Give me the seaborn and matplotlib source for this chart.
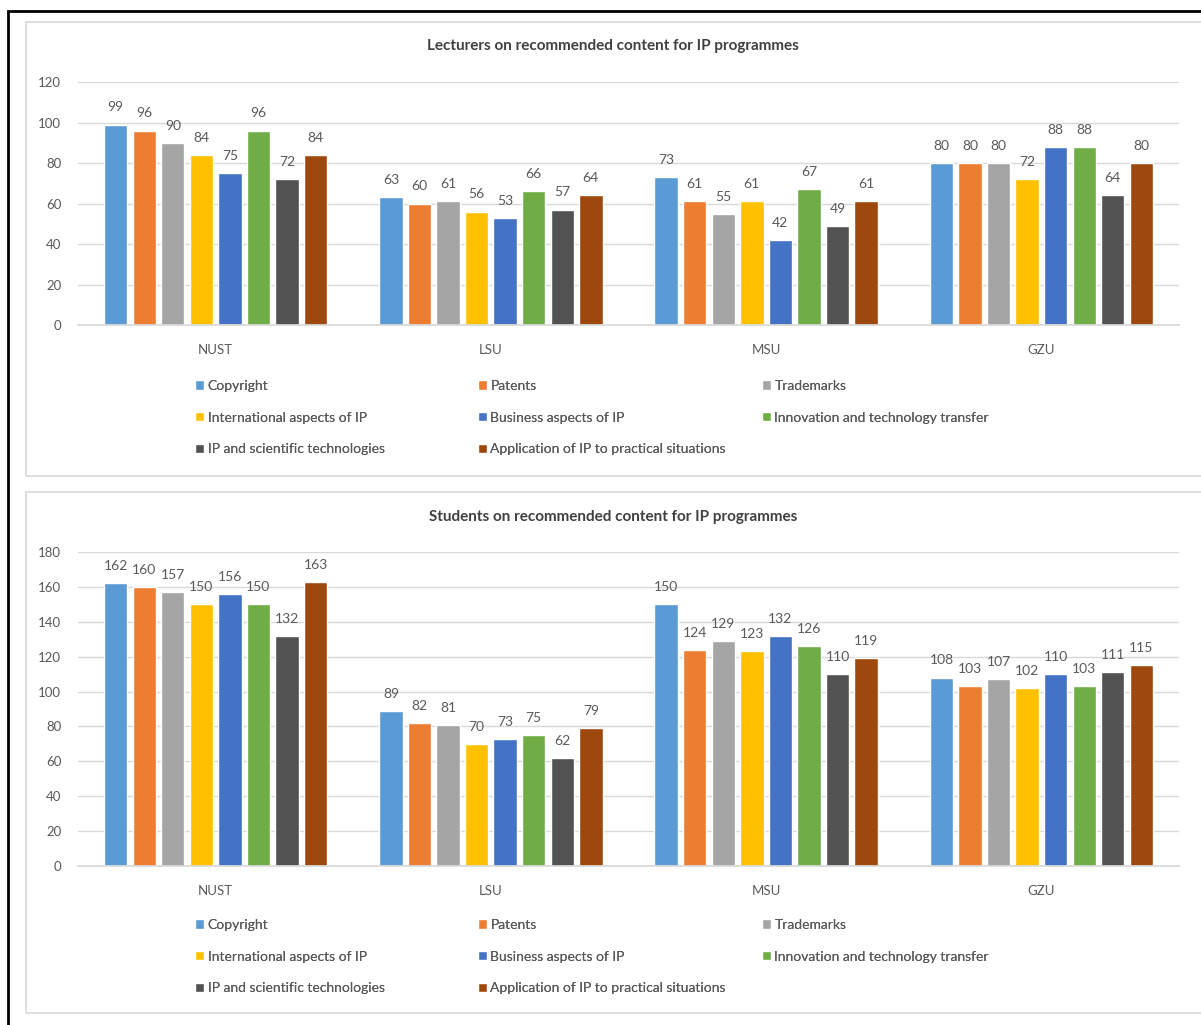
import pandas as pd
import matplotlib.pyplot as plt
from matplotlib.patches import Rectangle
import seaborn as sns

# Data
universities = ["NUST", "LSU", "MSU", "GZU"]
topics = [
    "Copyright", "Patents", "Trademarks", "International aspects of IP",
    "Business aspects of IP", "Innovation and technology transfer",
    "IP and scientific technologies", "Application of IP to practical situations",
]
colours = ["#5B9BD5", "#ED7D31", "#A5A5A5", "#FFC000",
           "#4472C4", "#70AD47", "#525252", "#9E480E"]

lecturers_nust = [99, 96, 90, 84, 75, 96, 72, 84]
lecturers_lsu = [63, 60, 61, 56, 53, 66, 57, 64]
lecturers_msu = [73, 61, 55, 61, 42, 67, 49, 61]
lecturers_gzu = [80, 80, 80, 72, 88, 88, 64, 80]

students_nust = [162, 160, 157, 150, 156, 150, 132, 163]
students_lsu = [89, 82, 81, 70, 73, 75, 62, 79]
students_msu = [150, 124, 129, 123, 132, 126, 110, 119]
students_gzu = [108, 103, 107, 102, 110, 103, 111, 115]

lecturers_ticks = [0, 20, 40, 60, 80, 100, 120]
students_ticks = [0, 20, 40, 60, 80, 100, 120, 140, 160, 180]

W, H = 1201, 1025
text_col = "#595959"
grid_col = "#D9D9D9"

sns.set_theme(style="white")
plt.rcParams['font.family'] = ['Lato', 'DejaVu Sans']


def make_df(rows):
    records = []
    for uni, vals in zip(universities, rows):
        for topic, v in zip(topics, vals):
            records.append({"University": uni, "Topic": topic, "Value": v})
    return pd.DataFrame(records)


def fx(px):
    return px / W


def fy(py):
    return 1 - py / H


fig = plt.figure(figsize=(W / 100, H / 100), dpi=100)

# Outer black frame and the two grey chart boxes
fig.patches.append(Rectangle((fx(8), fy(1040)), fx(1210) - fx(8), fy(11) - fy(1040),
                             transform=fig.transFigure, fill=False, ec="black", lw=2))
for top, bottom in [(22, 476), (492, 1013)]:
    fig.patches.append(Rectangle((fx(26), fy(bottom)), fx(1215) - fx(26), fy(top) - fy(bottom),
                                 transform=fig.transFigure, fill=False, ec=grid_col, lw=1.2))


def draw_chart(rows, ticks, ax_top, ax_bottom, title, title_y, legend_y):
    df = make_df(rows)
    ax = fig.add_axes([fx(78), fy(ax_bottom), fx(1179) - fx(78), fy(ax_top) - fy(ax_bottom)])
    sns.barplot(data=df, x="University", y="Value", hue="Topic", order=universities,
                hue_order=topics, palette=colours, width=0.83, gap=0.18,
                saturation=1, ax=ax)
    for cont in ax.containers:
        ax.bar_label(cont, padding=8, fontsize=10, color=text_col)
    ax.set_ylim(ticks[0], ticks[-1])
    ax.set_yticks(ticks)
    ax.set_xlim(-0.5, 3.5)
    ax.yaxis.grid(True, color=grid_col, lw=1)
    ax.set_axisbelow(True)
    for s in ["top", "right", "left"]:
        ax.spines[s].set_visible(False)
    ax.spines["bottom"].set_color(grid_col)
    ax.tick_params(axis="both", length=0, labelsize=9.5, colors=text_col)
    ax.tick_params(axis="x", pad=14)
    ax.tick_params(axis="y", pad=12)
    ax.set_xlabel("")
    ax.set_ylabel("")

    handles, labels = ax.get_legend_handles_labels()
    ax.get_legend().remove()
    # three legend columns laid out row by row
    for c, x in enumerate([195, 478, 762]):
        idx = [i for i in range(len(topics)) if i % 3 == c]
        leg = fig.legend([handles[i] for i in idx], [labels[i] for i in idx],
                         loc="upper left", bbox_to_anchor=(fx(x), fy(legend_y)),
                         frameon=False, fontsize=10, labelcolor=text_col,
                         handlelength=0.65, handleheight=0.65, handletextpad=0.25,
                         labelspacing=1.42, borderpad=0, borderaxespad=0)
        fig.add_artist(leg)

    fig.text(fx(613), fy(title_y), title, ha="center", va="center",
             fontsize=11, fontweight="bold", color="#404040")


draw_chart([lecturers_nust, lecturers_lsu, lecturers_msu, lecturers_gzu],
           lecturers_ticks, 82, 325,
           "Lecturers on recommended content for IP programmes", 46, 380)
draw_chart([students_nust, students_lsu, students_msu, students_gzu],
           students_ticks, 552, 866,
           "Students on recommended content for IP programmes", 517, 919)

fig.savefig("out.png", dpi=100)
